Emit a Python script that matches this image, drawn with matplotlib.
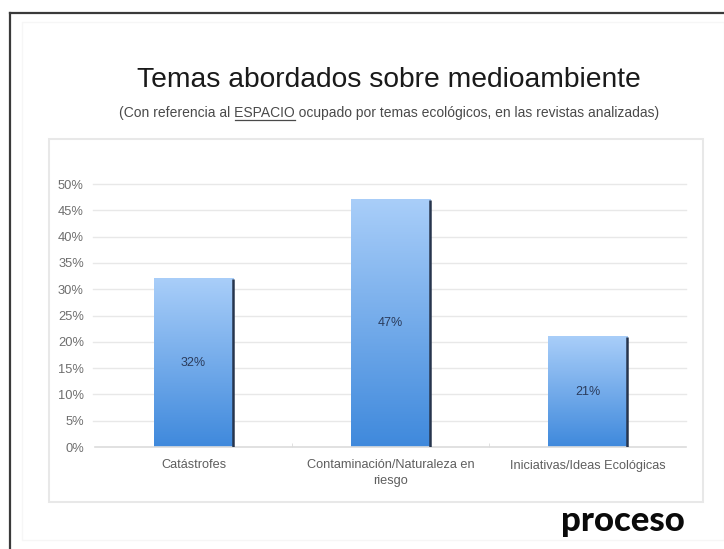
import numpy as np
import matplotlib
matplotlib.use("Agg")
import matplotlib.pyplot as plt
from matplotlib.colors import LinearSegmentedColormap
from matplotlib.patches import Rectangle
from matplotlib.lines import Line2D

# data
categories = ["Catástrofes", "Contaminación/Naturaleza en\nriesgo", "Iniciativas/Ideas Ecológicas"]
values = [32, 47, 21]
yticks = [0, 5, 10, 15, 20, 25, 30, 35, 40, 45, 50]

plt.rcParams['font.family'] = ['Liberation Sans', 'DejaVu Sans']

W, H = 724, 549
fig = plt.figure(figsize=(W / 100, H / 100), dpi=100)
fig.patch.set_facecolor("white")

def fx(px):
    return px / W

def fy(py):
    return 1 - py / H

# slide border (dark) and the light chart frame
fig.add_artist(Line2D([fx(10), fx(10)], [fy(549), fy(13)], color="#3a3a3a", lw=1.6))
fig.add_artist(Line2D([fx(10), fx(724)], [fy(13), fy(13)], color="#3a3a3a", lw=1.6))
fig.add_artist(Rectangle((fx(22), fy(540)), fx(724) - fx(22), fy(22) - fy(540),
                         fill=False, ec="#f6f6f6", lw=1))
fig.add_artist(Rectangle((fx(49), fy(502)), fx(703) - fx(49), fy(139) - fy(502),
                         fill=False, ec="#e8e8e8", lw=1.5))

# plot area
ax = fig.add_axes([fx(95), fy(447), (686 - 95) / W, (447 - 184) / H])
ax.set_xlim(-0.5, 2.5)
ax.set_ylim(0, 50)
for s in ["top", "right", "left"]:
    ax.spines[s].set_visible(False)
ax.spines["bottom"].set_color("#dcdcdc")
ax.spines["bottom"].set_linewidth(1.2)

ax.set_yticks(yticks)
ax.set_yticklabels([f"{t}%" for t in yticks], color="#6e6e6e", fontsize=9.3)
ax.tick_params(axis="y", length=0, pad=8)
ax.set_xticks(range(len(categories)))
ax.set_xticklabels(categories, color="#5e5e5e", fontsize=9.2, linespacing=1.4)
ax.tick_params(axis="x", length=0, pad=9)
ax.set_xticks([0.5, 1.5], minor=True)
ax.tick_params(axis="x", which="minor", length=3, color="#dcdcdc", direction="in")
for t in yticks[1:]:
    ax.axhline(t, xmin=-0.004, color="#e8e8e8", lw=1, zorder=0, clip_on=False)

# gradient bars
cmap = LinearSegmentedColormap.from_list("bluegrad", ["#3f89dc", "#a9cef9"])
grad = np.linspace(0, 1, 256).reshape(-1, 1)
bars = ax.bar(range(len(values)), values, width=0.405, color="none", zorder=2)
for b, v in zip(bars, values):
    x0, w = b.get_x(), b.get_width()
    ax.imshow(grad, extent=[x0, x0 + w, 0, v], origin="lower", cmap=cmap,
              aspect="auto", zorder=2, interpolation="bicubic")
    ax.plot([x0 + w, x0 + w], [0, v], color="#27354d", lw=1.8, zorder=3,
            solid_capstyle="butt")
    ax.text(x0 + w / 2, v / 2, f"{v}%", ha="center", va="center",
            fontsize=9, color="#2b3c5c", zorder=4)
ax.set_xlim(-0.5, 2.5)
ax.set_ylim(0, 50)

# titles
fig.text(fx(389), fy(80), "Temas abordados sobre medioambiente", ha="center",
         va="center", fontsize=20.3, color="#1a1a1a")
sub_pre = "(Con referencia al "
sub_key = "ESPACIO"
subtitle = sub_pre + sub_key + " ocupado por temas ecológicos, en las revistas analizadas)"
st = fig.text(fx(389), fy(113), subtitle, ha="center", va="center",
              fontsize=10, color="#4a4a4a")

# underline under ESPACIO
r = fig.canvas.get_renderer()
bb = st.get_window_extent(r)
tmp = fig.text(0, 0, sub_pre, fontsize=10)
w_pre = tmp.get_window_extent(r).width
tmp.set_text(sub_pre + sub_key)
w_key = tmp.get_window_extent(r).width
tmp.remove()
u_y = fy(120)
fig.add_artist(Line2D([(bb.x0 + w_pre + 1) / W, (bb.x0 + w_key) / W], [u_y, u_y],
                      color="#4a4a4a", lw=0.9))

# logo
fig.text(fx(623), fy(521), "proceso", ha="center", va="center", fontsize=25,
         fontweight="black", family=["Lato", "DejaVu Sans"], color="#0a0a0a")

fig.savefig("out.png", dpi=100)
